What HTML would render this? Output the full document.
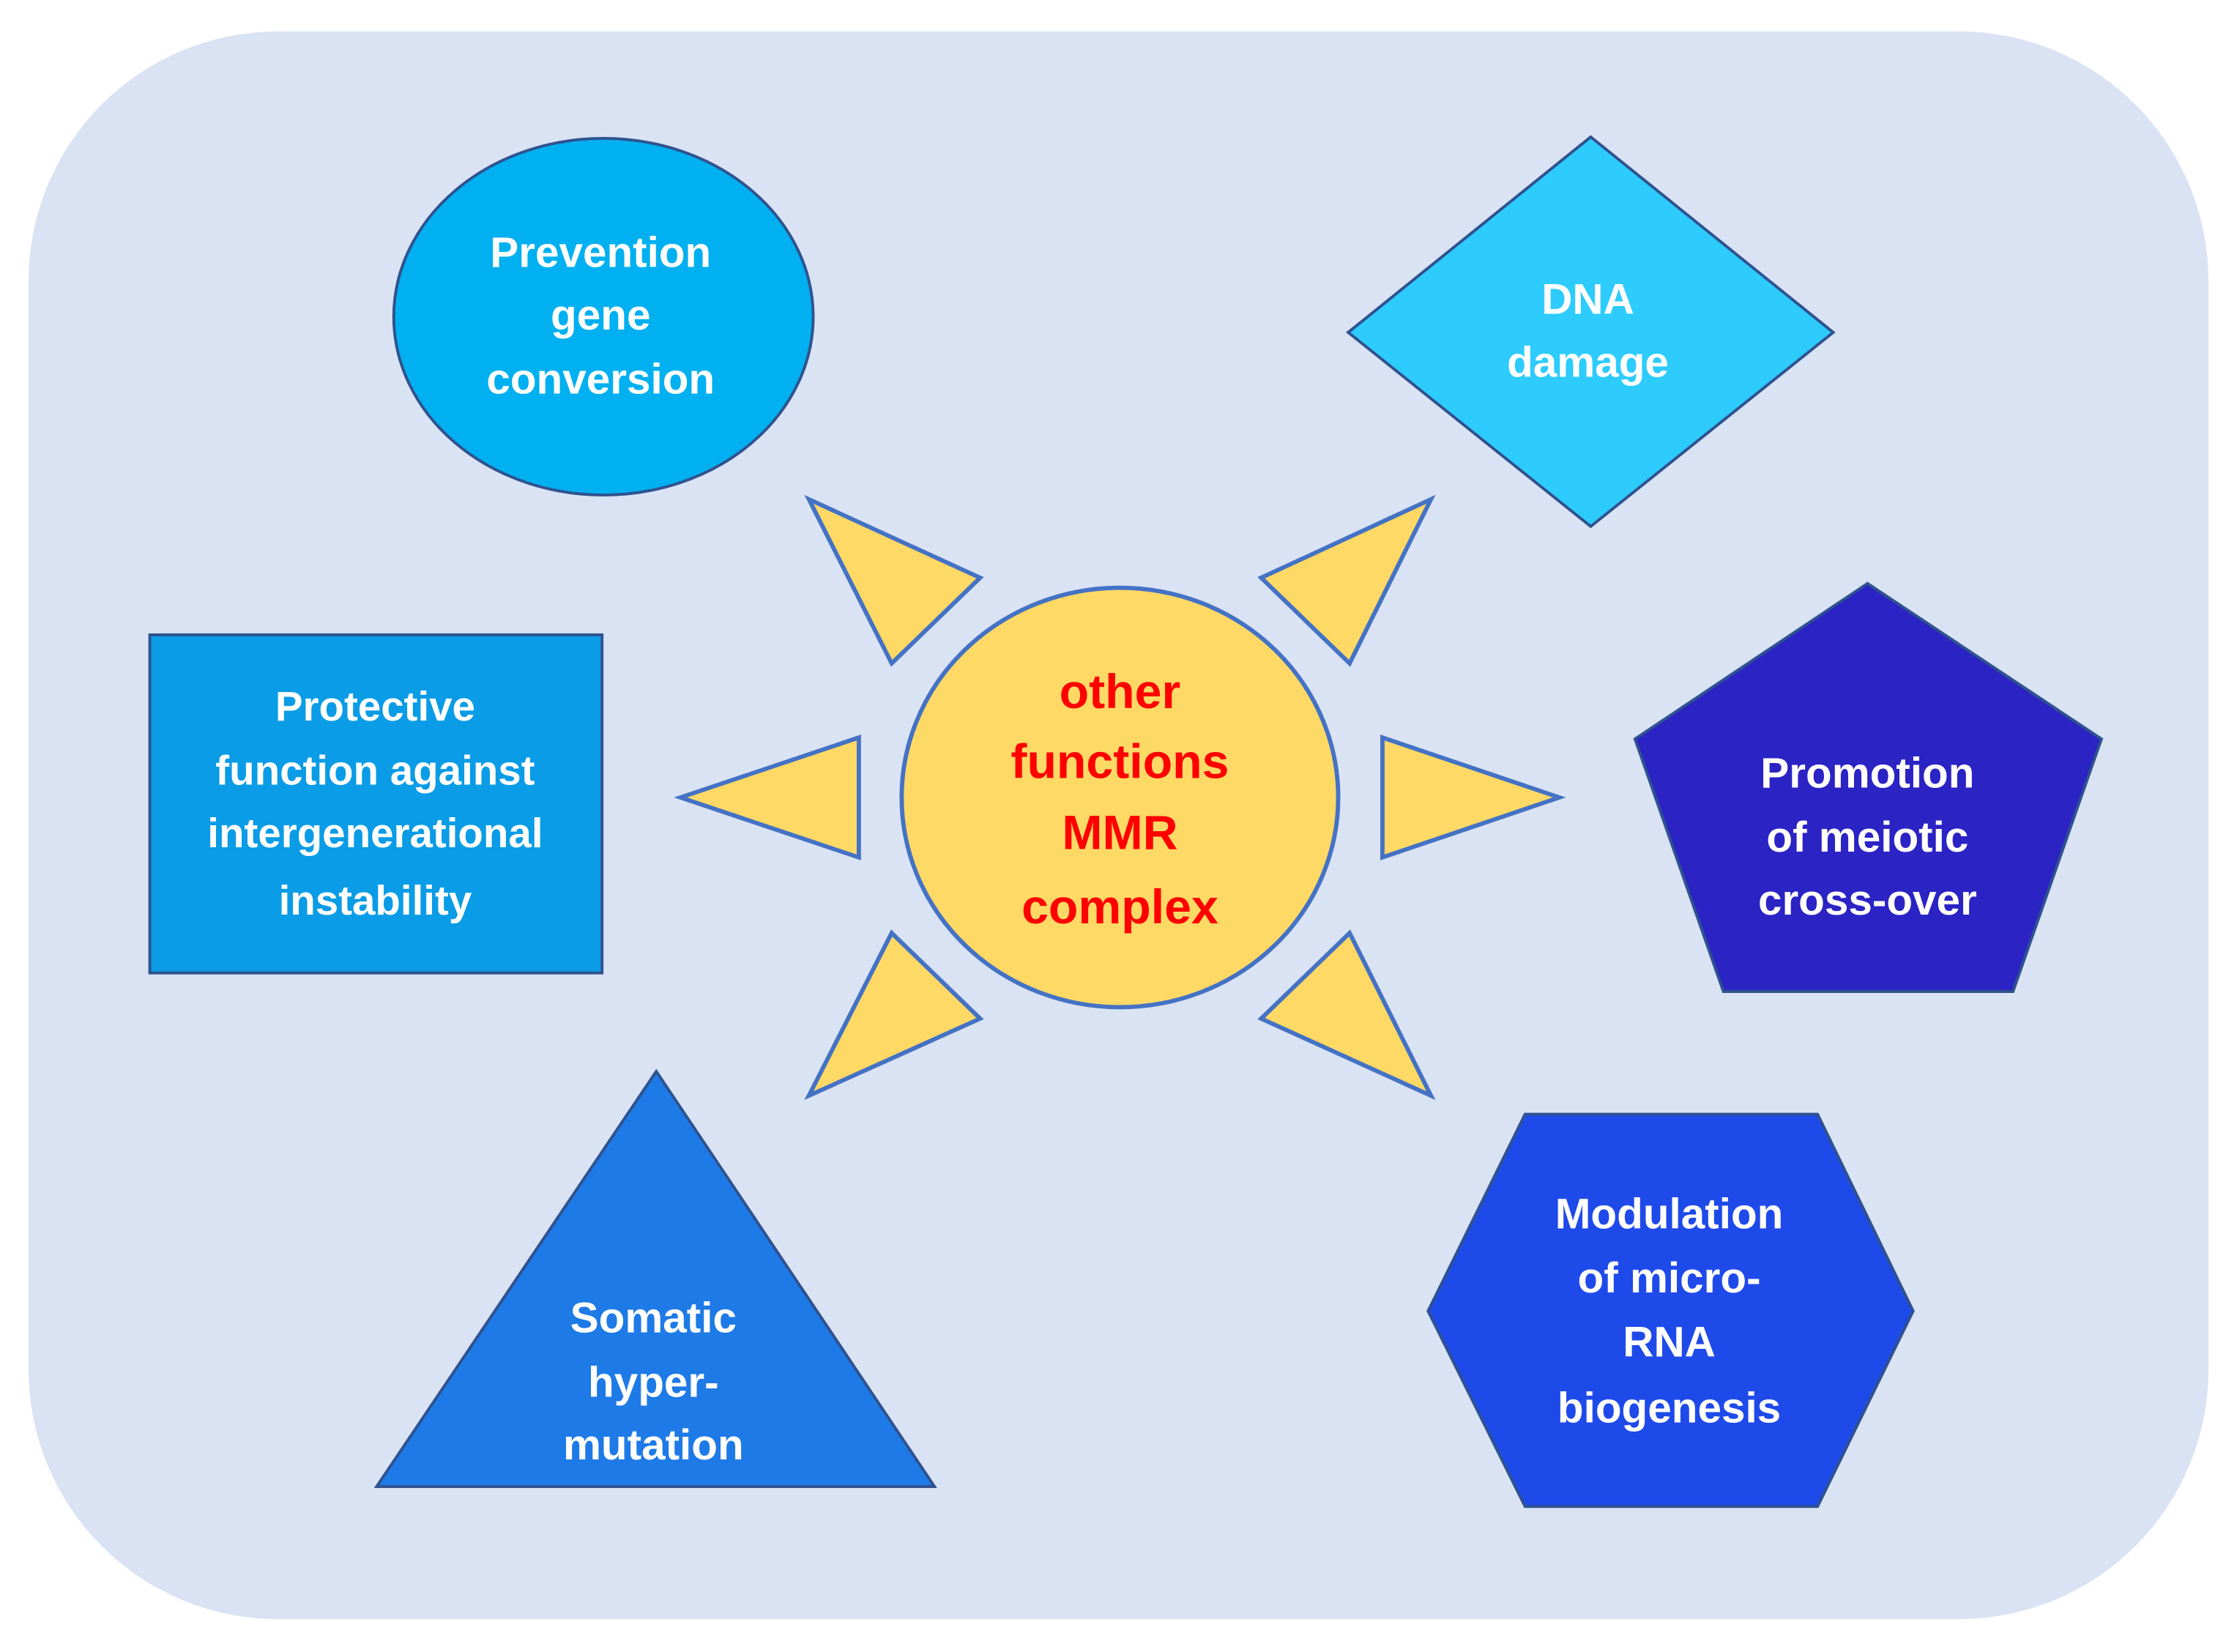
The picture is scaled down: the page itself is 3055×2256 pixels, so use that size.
<!DOCTYPE html>
<html><head><meta charset="utf-8"><style>
html,body{margin:0;padding:0;background:#fff;}
svg{display:block;}
text{font-family:"Liberation Sans",sans-serif;font-weight:bold;text-anchor:middle;dominant-baseline:central;}
.w{fill:#fff;font-size:30px;}
.r{fill:#ff0000;font-size:34px;}
</style></head><body>
<svg width="3055" height="2256" viewBox="0 0 1568 1158" preserveAspectRatio="none" xmlns="http://www.w3.org/2000/svg">
<rect x="0" y="0" width="1568" height="1158" fill="#fff"/>
<rect x="20" y="22" width="1528" height="1113" rx="175" ry="175" fill="#dae3f3"/>
<g stroke="#2f528f" stroke-width="2">
<ellipse cx="423" cy="222" rx="147" ry="125" fill="#00b0f0"/>
<polygon points="1115,96 1285,233 1115,369 945,233" fill="#2ecbfd"/>
<rect x="105" y="445" width="317" height="237" fill="#0a9ce6"/>
<polygon points="1309,409 1473,518 1411,695 1208,695 1146,518" fill="#2b23c4"/>
<polygon points="460,751 655,1042 264,1042" fill="#1e7ae6"/>
<polygon points="1069,781 1274,781 1341,919 1274,1056 1069,1056 1001,919" fill="#1f4aea"/>
</g>
<g stroke="#4472c4" stroke-width="3" fill="#ffd966">
<ellipse cx="785" cy="559" rx="153" ry="147"/>
<polygon points="567,350 687,405 625,465"/>
<polygon points="1003,350 884,405 946,465"/>
<polygon points="477,559 602,517 602,601"/>
<polygon points="1093,559 969,517 969,601"/>
<polygon points="567,768 687,714 625,654"/>
<polygon points="1003,768 884,714 946,654"/>
</g>
<text class="w" x="421" y="177">Prevention</text>
<text class="w" x="421" y="221">gene</text>
<text class="w" x="421" y="266">conversion</text>
<text class="w" x="1113" y="210">DNA</text>
<text class="w" x="1113" y="254">damage</text>
<text class="w" x="263" y="495" style="font-size:29px">Protective</text>
<text class="w" x="263" y="540" style="font-size:29px">function against</text>
<text class="w" x="263" y="584" style="font-size:29px">intergenerational</text>
<text class="w" x="263" y="631" style="font-size:29px">instability</text>
<text class="w" x="1309" y="542">Promotion</text>
<text class="w" x="1309" y="587">of meiotic</text>
<text class="w" x="1309" y="631">cross-over</text>
<text class="w" x="458" y="924">Somatic</text>
<text class="w" x="458" y="969">hyper-</text>
<text class="w" x="458" y="1013">mutation</text>
<text class="w" x="1170" y="851">Modulation</text>
<text class="w" x="1170" y="896">of micro-</text>
<text class="w" x="1170" y="941">RNA</text>
<text class="w" x="1170" y="987">biogenesis</text>
<text class="r" x="785" y="485">other</text>
<text class="r" x="785" y="534">functions</text>
<text class="r" x="785" y="584">MMR</text>
<text class="r" x="785" y="636">complex</text>
</svg>
</body></html>
